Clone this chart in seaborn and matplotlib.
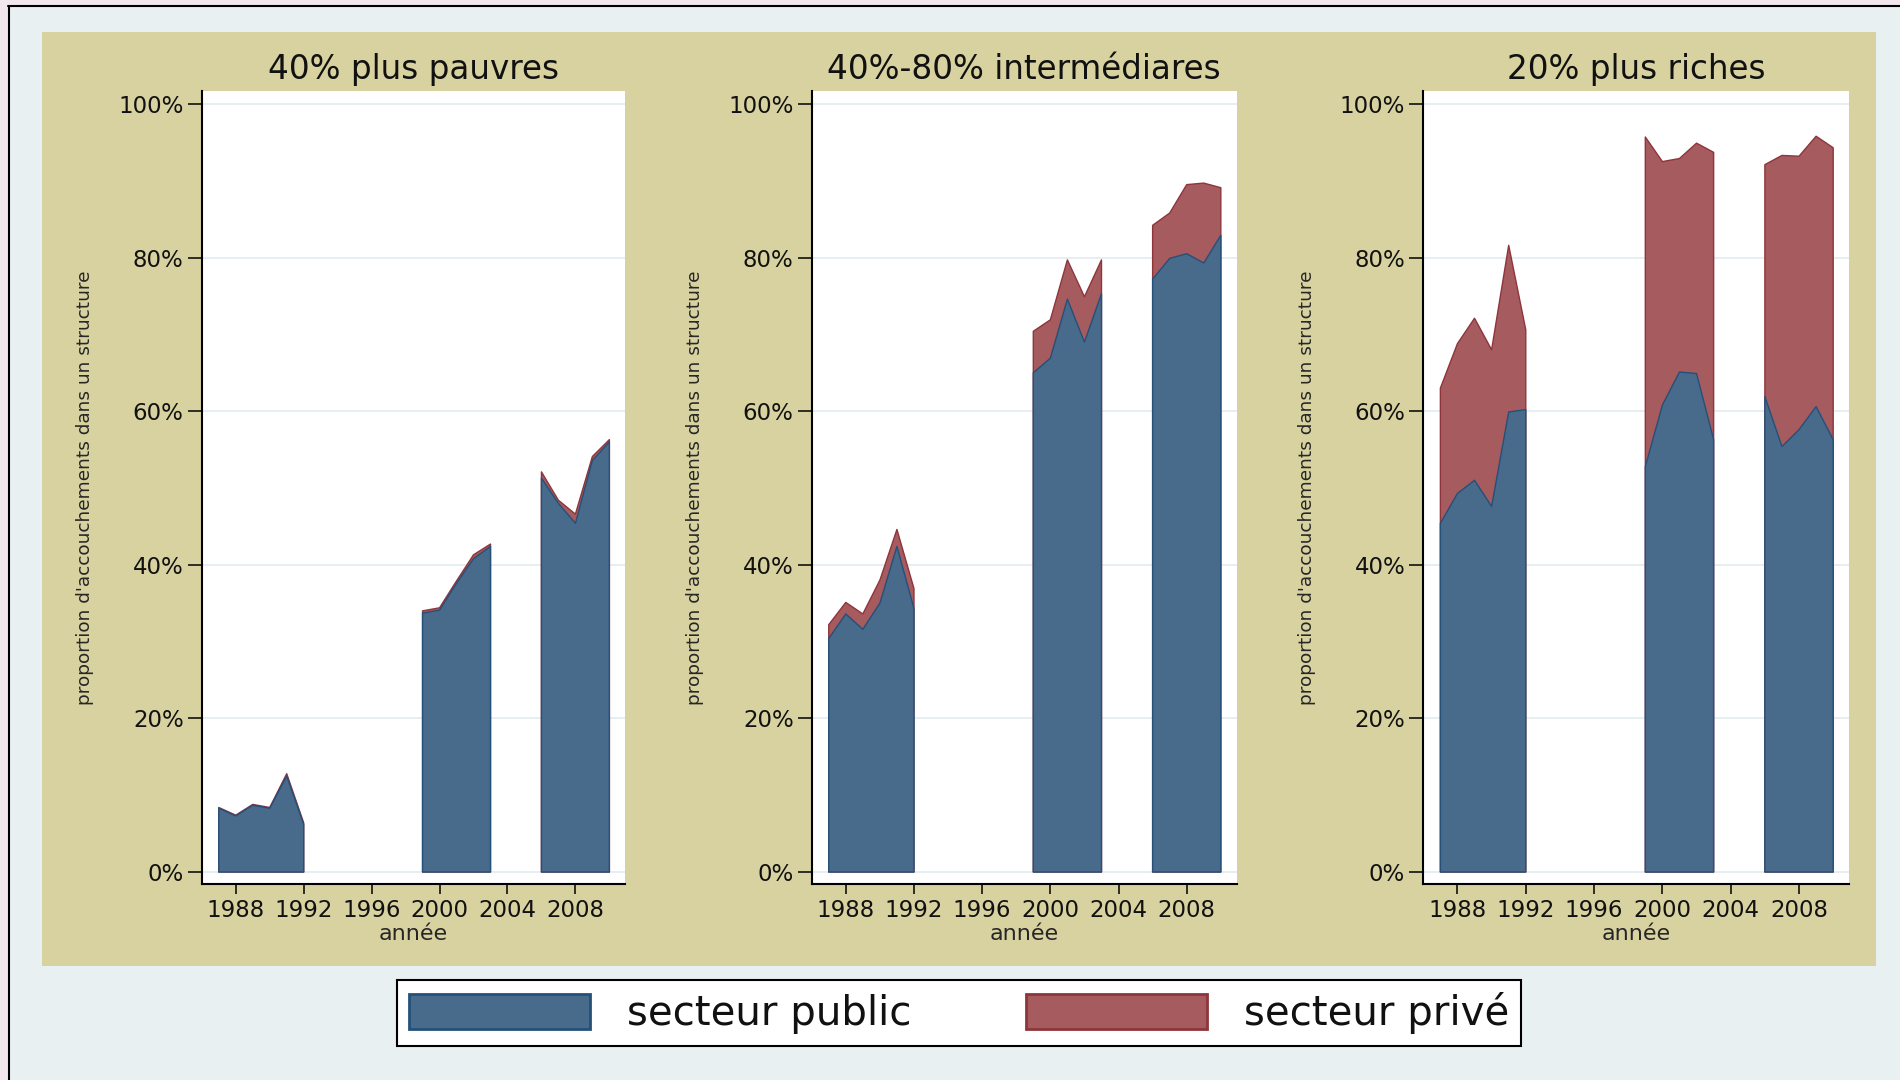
import numpy as np
import pandas as pd
import seaborn as sns
import matplotlib.pyplot as plt
from matplotlib.patches import Patch, Rectangle
from matplotlib.lines import Line2D
from matplotlib.ticker import FuncFormatter

nan = np.nan

# années 1987-2010, trous = pas d'enquête
years = list(range(1987, 2011))
groups = ["40% plus pauvres", "40%-80% intermédiares", "20% plus riches"]
sectors = ["secteur public", "secteur privé"]

pauvres_public = [8.3, 7.3, 8.7, 8.3, 12.5, 6.2, nan, nan, nan, nan, nan, nan,
                  33.7, 34.1, 37.6, 40.8, 42.4, nan, nan, 51.3, 48.0, 45.4, 53.6, 56.0]
pauvres_prive = [0.1, 0.1, 0.1, 0.1, 0.3, 0.2, nan, nan, nan, nan, nan, nan,
                 0.3, 0.3, 0.3, 0.5, 0.3, nan, nan, 0.8, 0.4, 1.2, 0.5, 0.3]

inter_public = [30.4, 33.6, 31.6, 35.0, 42.4, 34.3, nan, nan, nan, nan, nan, nan,
                65.0, 66.9, 74.6, 69.0, 75.3, nan, nan, 77.2, 79.9, 80.5, 79.3, 82.9]
inter_prive = [1.8, 1.5, 2.0, 3.0, 2.2, 2.6, nan, nan, nan, nan, nan, nan,
               5.4, 5.0, 5.1, 5.9, 4.4, nan, nan, 7.0, 5.9, 9.0, 10.4, 6.2]

riches_public = [45.4, 49.3, 51.0, 47.6, 59.9, 60.2, nan, nan, nan, nan, nan, nan,
                 52.8, 60.8, 65.1, 64.9, 56.3, nan, nan, 61.9, 55.4, 57.6, 60.6, 56.3]
riches_prive = [17.6, 19.5, 21.1, 20.4, 21.7, 10.4, nan, nan, nan, nan, nan, nan,
                42.9, 31.7, 27.8, 30.0, 37.4, nan, nan, 30.2, 37.9, 35.6, 35.2, 38.0]

xticks = [1988, 1992, 1996, 2000, 2004, 2008]
yticks = [0, 20, 40, 60, 80, 100]

rows = []
for g, pub, pri in zip(groups,
                       [pauvres_public, inter_public, riches_public],
                       [pauvres_prive, inter_prive, riches_prive]):
    for y, a, b in zip(years, pub, pri):
        rows.append({"année": y, "groupe": g, sectors[0]: a, sectors[1]: b})
df = pd.DataFrame(rows)

blue, blue_edge = "#486A8B", "#24507A"
red, red_edge = "#A65B5F", "#8E353B"
tan = "#D8D2A0"
outer = "#E9F0F2"

sns.set_theme(style="white")
plt.rcParams["font.family"] = ["DejaVu Sans"]
plt.rcParams["text.color"] = "#111111"
plt.rcParams["xtick.color"] = "#111111"
plt.rcParams["ytick.color"] = "#111111"

W, H = 1900, 1080
fig = plt.figure(figsize=(19, 10.8), dpi=100)
fig.patch.set_facecolor(outer)


def fx(px):
    return px / W


def fy(py):
    return 1 - py / H


# cadre de la capture d'écran + fond du graphique
fig.patches.append(Rectangle((0, fy(5)), 1, 5 / H, transform=fig.transFigure,
                             facecolor="#F3E7EE", edgecolor="none", zorder=-10))
fig.patches.append(Rectangle((0, 0), fx(8), 1, transform=fig.transFigure,
                             facecolor="#F3E7EE", edgecolor="none", zorder=-10))
fig.lines.append(Line2D([fx(8), 1], [fy(5.5), fy(5.5)], transform=fig.transFigure,
                        color="black", lw=1.5, zorder=-9))
fig.lines.append(Line2D([fx(8.5), fx(8.5)], [0, fy(5.5)], transform=fig.transFigure,
                        color="black", lw=1.5, zorder=-9))
fig.patches.append(Rectangle((fx(42), fy(966)), fx(1876) - fx(42), fy(32) - fy(966),
                             transform=fig.transFigure, facecolor=tan,
                             edgecolor="none", zorder=-10))

panels_px = [(201.8, 625.0), (811.7, 1236.5), (1423.3, 1848.9)]
top_px, bot_px = 91, 884
pct = FuncFormatter(lambda v, p: f"{v:.0f}%")

for g, (l, r) in zip(groups, panels_px):
    ax = fig.add_axes([fx(l), fy(bot_px), fx(r) - fx(l), (bot_px - top_px) / H])
    ax.set_facecolor("white")
    d = df[df["groupe"] == g]
    x = d["année"].to_numpy(dtype=float)
    pub = d[sectors[0]].to_numpy()
    tot = pub + d[sectors[1]].to_numpy()
    ax.fill_between(x, 0, tot, facecolor=red, edgecolor=red_edge, lw=1, zorder=2)
    ax.fill_between(x, 0, pub, facecolor=blue, edgecolor=blue_edge, lw=1, zorder=3)

    ax.set_xlim(1986.0, 2010.92)
    ax.set_ylim(-1.5625, 101.69)
    ax.set_xticks(xticks)
    ax.set_yticks(yticks)
    ax.yaxis.set_major_formatter(pct)
    ax.yaxis.grid(True, color="#E4EDF0", lw=1.3)
    ax.xaxis.grid(False)
    ax.set_axisbelow(True)
    for s in ["top", "right"]:
        ax.spines[s].set_visible(False)
    for s in ["left", "bottom"]:
        ax.spines[s].set_color("black")
        ax.spines[s].set_linewidth(1.5)
    ax.tick_params(axis="y", left=True, length=10, width=1.2, pad=3, labelsize=16.5)
    ax.tick_params(axis="x", bottom=True, length=7, width=1.2, pad=4, labelsize=16.5)

    ax.set_title(g, fontsize=23.5, y=1 + 21 / (bot_px - top_px), pad=0,
                 va="center")
    ax.set_ylabel("proportion d'accouchements dans un structure", fontsize=13.3,
                  va="center")
    ax.yaxis.set_label_coords(-116.8 / (r - l), 0.5)
    ax.set_xlabel("année", fontsize=16, va="top")
    ax.xaxis.set_label_coords(0.5, -(924 - bot_px) / (bot_px - top_px))

handles = [Patch(facecolor=blue, edgecolor=blue_edge, lw=2, label=sectors[0]),
           Patch(facecolor=red, edgecolor=red_edge, lw=2, label=sectors[1])]
leg = fig.legend(handles=handles, loc="center",
                 bbox_to_anchor=(fx(397), fy(1047), (1521 - 397) / W, 68 / H),
                 mode="expand", ncol=2, fontsize=29, handlelength=4.5,
                 handleheight=0.95, handletextpad=0.9, borderpad=0.3,
                 borderaxespad=0, frameon=True, fancybox=False,
                 edgecolor="black", framealpha=1)
leg.get_frame().set_linewidth(1.5)

fig.savefig("out.png", dpi=100, facecolor=fig.get_facecolor())
